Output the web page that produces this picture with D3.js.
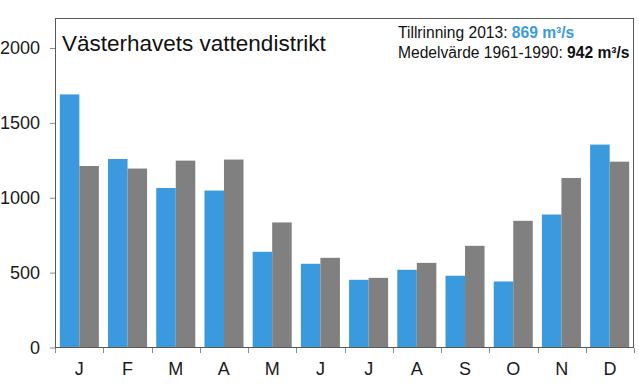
<!DOCTYPE html>
<html>
<head>
<meta charset="utf-8">
<script src="https://cdn.jsdelivr.net/npm/d3@7"></script>
<style>
  body { margin: 0; background: #fff; font-family: "Liberation Sans", Arial, sans-serif; }
</style>
</head>
<body>
<div id="chart"></div>
<script>
const months = ['J', 'F', 'M', 'A', 'M', 'J', 'J', 'A', 'S', 'O', 'N', 'D'];
const inflow2013 = [1690, 1259, 1065, 1048, 639, 559, 452, 519, 479, 441, 888, 1355];
const mean6190 = [1212, 1195, 1248, 1255, 835, 599, 465, 565, 679, 846, 1132, 1241];
const yTicks = [0, 500, 1000, 1500, 2000];

const width = 639, height = 388;
const margin = { top: 18, right: 5, bottom: 40, left: 55 };
const w = width - margin.left - margin.right;
const h = height - margin.top - margin.bottom;

const svg = d3.select('#chart')
  .append('svg')
  .attr('width', width)
  .attr('height', height);

const g = svg.append('g')
  .attr('transform', `translate(${margin.left},${margin.top})`);

// scales
const x = d3.scaleBand()
  .domain(d3.range(months.length))
  .range([0, w])
  .paddingInner(0.19)
  .paddingOuter(0.1);

const xSub = d3.scaleBand()
  .domain([0, 1])
  .range([0, x.bandwidth()]);

const y = d3.scaleLinear()
  .domain([0, 2000])
  .range([h - 0.5, 30]);

// plot box
g.append('rect')
  .attr('x', 0.5)
  .attr('y', 0.5)
  .attr('width', w - 1)
  .attr('height', h - 1)
  .attr('fill', 'none')
  .attr('stroke', '#595959')
  .attr('stroke-width', 1);

// bars
const series = [
  { values: inflow2013, color: '#3b9ade' },
  { values: mean6190, color: '#808080' }
];

series.forEach((s, si) => {
  g.selectAll('.bar' + si)
    .data(s.values)
    .enter()
    .append('rect')
    .attr('x', (d, i) => x(i) + xSub(si))
    .attr('y', d => y(d))
    .attr('width', xSub.bandwidth())
    .attr('height', d => y(0) - y(d))
    .attr('fill', s.color);
});

// y axis
const yAxis = g.append('g')
  .call(d3.axisLeft(y).tickValues(yTicks).tickFormat(d3.format('d')).tickSize(5).tickPadding(10));
yAxis.select('.domain').remove();
yAxis.selectAll('line').attr('stroke', '#8c8c8c');
yAxis.selectAll('text')
  .attr('font-size', 18)
  .attr('fill', '#1a1a1a')
  .attr('font-family', '"Liberation Sans", Arial, sans-serif');

// x axis: ticks at band boundaries
const bounds = d3.range(months.length + 1);
g.append('g')
  .selectAll('line')
  .data(bounds)
  .enter()
  .append('line')
  .attr('x1', d => Math.round(d * w / months.length) + 0.5)
  .attr('x2', d => Math.round(d * w / months.length) + 0.5)
  .attr('y1', h)
  .attr('y2', h + 5)
  .attr('stroke', '#8c8c8c');

g.append('line')
  .attr('x1', 0).attr('x2', w)
  .attr('y1', h - 0.5).attr('y2', h - 0.5)
  .attr('stroke', '#595959');

g.append('g')
  .selectAll('text')
  .data(months)
  .enter()
  .append('text')
  .attr('x', (d, i) => (i + 0.5) * w / months.length)
  .attr('y', h + 27)
  .attr('text-anchor', 'middle')
  .attr('font-size', 18)
  .attr('fill', '#1a1a1a')
  .text(d => d);

// title
g.append('text')
  .attr('x', 7)
  .attr('y', 33)
  .attr('font-size', 22.5)
  .attr('fill', '#111')
  .text('Västerhavets vattendistrikt');

// legend text
const leg = g.append('g')
  .attr('font-size', 15.6)
  .attr('fill', '#111');

const l1 = leg.append('text').attr('x', 343).attr('y', 20);
l1.append('tspan').text('Tillrinning 2013: ');
l1.append('tspan').attr('fill', '#3b9ade').attr('font-weight', 'bold').text('869 m³/s');

const l2 = leg.append('text').attr('x', 343).attr('y', 40);
l2.append('tspan').text('Medelvärde 1961-1990: ');
l2.append('tspan').attr('font-weight', 'bold').text('942 m³/s');
</script>
</body>
</html>
